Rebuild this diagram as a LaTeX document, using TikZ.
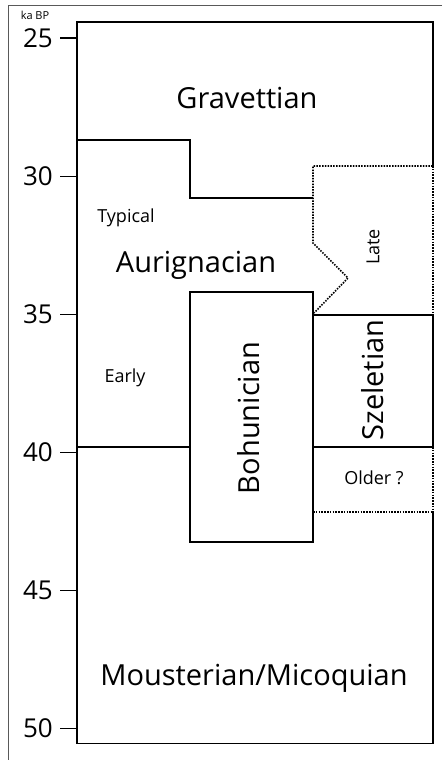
\documentclass[tikz,border=0pt]{standalone}
\usepackage{fontspec}
\setmainfont{Open Sans}
\usetikzlibrary{positioning}

\tikzset{
  period/.style={font=\fontsize{29}{29}\selectfont, inner sep=0pt},
  phase/.style={font=\fontsize{18}{18}\selectfont, inner sep=0pt},
  agelbl/.style={font=\fontsize{26}{26}\selectfont, inner sep=0pt, anchor=east},
  bound/.style={line width=1.4pt},
  unsure/.style={line width=1.6pt, dash pattern=on 1.5pt off 1.3pt},
}

\begin{document}
\begin{tikzpicture}[x=1pt,y=-1pt]
  \useasboundingbox (0,0) rectangle (442,760);

  % frame round the figure
  \draw[gray!70!black, line width=0.8pt] (442,5) -- (8,5) -- (8,760);

  % time axis
  \node[font=\fontsize{11}{11}\selectfont, inner sep=0pt] (ka) at (35,15) {ka BP};
  \foreach \age in {25,30,...,50} {
    \pgfmathsetmacro{\ypos}{38.2+(\age-25)*27.6}
    \draw[line width=1.4pt] (60,\ypos) -- (77,\ypos);
    \node[agelbl] (t\age) at (53,\ypos) {\age};
  }

  % main box, right side broken where the limits are unsure
  \draw[line width=1.8pt] (432.7,166) -- (432.7,22) -- (77,22) -- (77,743.5)
    -- (432.7,743.5) -- (432.7,512);
  \draw[line width=1.8pt] (432.7,315) -- (432.7,447);
  \draw[unsure] (432.7,166) -- (432.7,315);
  \draw[unsure] (432.7,447) -- (432.7,512);

  % Gravettian / Aurignacian
  \draw[bound] (77,140) -- (190,140) -- (190,198) -- (313,198);
  \draw[bound] (77,447) -- (190,447);

  % late Szeletian
  \draw[unsure] (432.7,166) -- (313,166) -- (313,243) -- (348,278) -- (314,313);

  % Szeletian
  \draw[bound] (313,315) -- (432.7,315);
  \draw[bound] (313,447) -- (432.7,447);
  \draw[unsure] (313,512) -- (432.7,512);

  % Bohunician
  \draw[line width=1.8pt] (190,292) rectangle (313,542);

  % labels
  \node[period] (grav) at (247,98) {Gravettian};
  \node[phase] (typ) at (126,218) {Typical};
  \node[period] (aur) at (196,265) {Aurignacian};
  \node[phase] (early) at (125,378) {Early};
  \node[period, rotate=90] (boh) at (249,418) {Bohunician};
  \node[phase, rotate=90] (late) at (373,247) {Late};
  \node[period, rotate=90] (sze) at (373,380) {Szeletian};
  \node[phase] (older) at (374,478) {Older ?};
  \node[period] (mous) at (254,678) {Mousterian/Micoquian};
\end{tikzpicture}
\end{document}
